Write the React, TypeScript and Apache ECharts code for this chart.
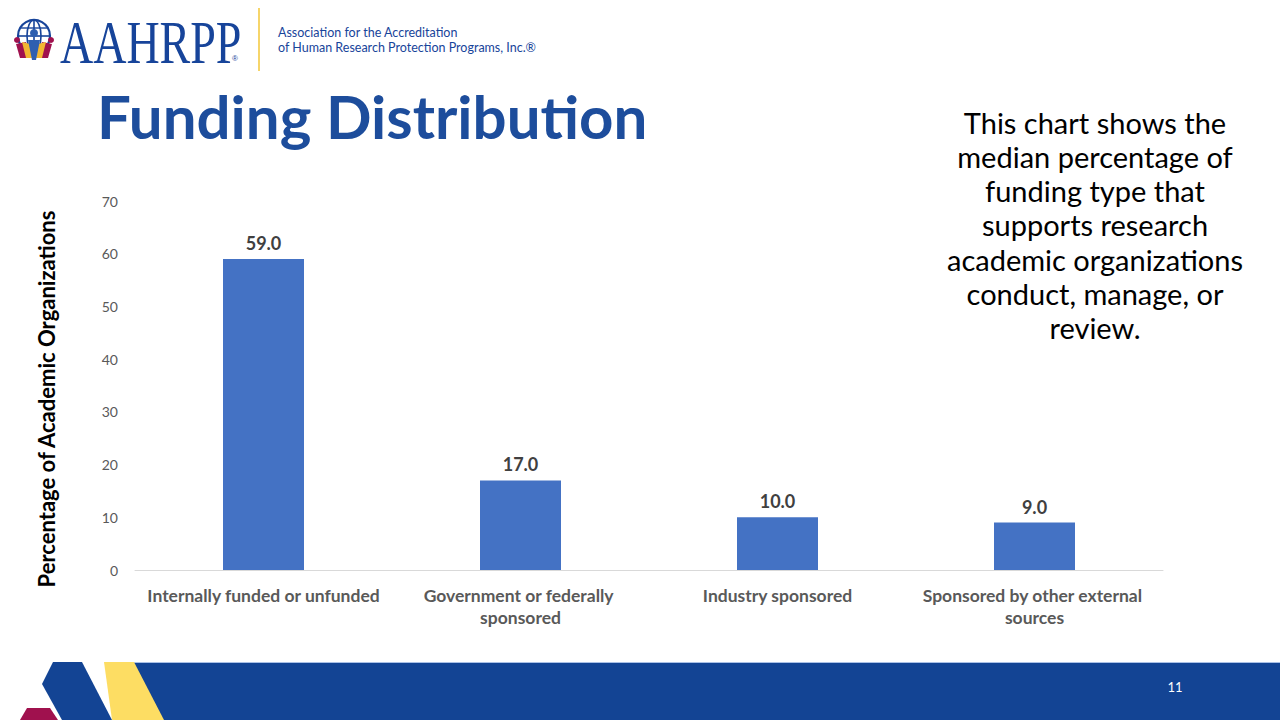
import React, { useEffect, useRef } from "react";
import * as echarts from "echarts";

const categories = [
  "Internally funded or unfunded",
  "Government or federally sponsored",
  "Industry sponsored",
  "Sponsored by other external sources",
];
const medianPercent = [59.0, 17.0, 10.0, 9.0];
const yTicks = { min: 0, max: 70, interval: 10 };
const titleText = "Funding Distribution";
const yAxisTitle = "Percentage of Academic Organizations";
const noteLines = [
  "This chart shows the",
  "median percentage of",
  "funding type that",
  "supports research",
  "academic organizations",
  "conduct, manage, or",
  "review.",
];
const orgLines = [
  "Association for the Accreditation",
  "of Human Research Protection Programs, Inc.®",
];
const pageNumber = "11";

const FONT = "Lato, 'Open Sans', sans-serif";

export default function App() {
  const ref = useRef<HTMLDivElement>(null);
  useEffect(() => {
    document.body.style.margin = "0";
    const chart = echarts.init(ref.current!, null, { renderer: "svg" });
    const navy = "#17449A";
    const graphics: any[] = [
      // logo globe
      { type: "circle", shape: { cx: 34, cy: 36, r: 16 }, style: { fill: "none", stroke: navy, lineWidth: 2.2 } },
      { type: "ellipse", shape: { cx: 34, cy: 36, rx: 7, ry: 16 }, style: { fill: "none", stroke: navy, lineWidth: 1.6 } },
      { type: "line", shape: { x1: 34, y1: 20, x2: 34, y2: 52 }, style: { stroke: navy, lineWidth: 1.6 } },
      { type: "line", shape: { x1: 18, y1: 36, x2: 50, y2: 36 }, style: { stroke: navy, lineWidth: 1.6 } },
      { type: "line", shape: { x1: 21, y1: 28, x2: 47, y2: 28 }, style: { stroke: navy, lineWidth: 1.4 } },
      // people figures
      { type: "polygon", shape: { points: [[16, 44], [26, 42], [30, 58], [20, 58]] }, style: { fill: "#A0114E" } },
      { type: "circle", shape: { cx: 17, cy: 40, r: 3 }, style: { fill: "#A0114E" } },
      { type: "polygon", shape: { points: [[52, 44], [42, 42], [38, 58], [48, 58]] }, style: { fill: "#A0114E" } },
      { type: "circle", shape: { cx: 51, cy: 40, r: 3 }, style: { fill: "#A0114E" } },
      { type: "polygon", shape: { points: [[22, 42], [30, 44], [32, 58], [26, 58]] }, style: { fill: "#F2B632" } },
      { type: "polygon", shape: { points: [[46, 42], [38, 44], [36, 58], [42, 58]] }, style: { fill: "#F2B632" } },
      { type: "polygon", shape: { points: [[28, 40], [40, 40], [36, 60], [32, 60]] }, style: { fill: "#2E5FB0" } },
      { type: "circle", shape: { cx: 34, cy: 33, r: 4 }, style: { fill: "#2E5FB0" } },
      {
        type: "text", x: 60, y: 42, scaleY: 1.35,
        style: { text: "AAHRPP", fill: navy, font: "46px 'Liberation Serif', 'DejaVu Serif', serif", align: "left", verticalAlign: "middle" },
      },
      { type: "text", x: 232, y: 54, style: { text: "®", fill: navy, font: "8px sans-serif" } },
      { type: "line", shape: { x1: 259, y1: 8, x2: 259, y2: 71 }, style: { stroke: "#F6D56A", lineWidth: 2 } },
      { type: "text", x: 278, y: 26, style: { text: orgLines[0], fill: navy, font: `12.5px ${FONT}` } },
      { type: "text", x: 278, y: 41, style: { text: orgLines[1], fill: navy, font: `12.5px ${FONT}` } },
      // title
      {
        type: "text", x: 97, y: 116,
        style: { text: titleText, fill: "#1D4D9C", font: `bold 60px ${FONT}`, align: "left", verticalAlign: "middle" },
      },
      // y-axis title
      {
        type: "text", x: 46, y: 399, rotation: Math.PI / 2,
        style: { text: yAxisTitle, fill: "#000", font: `bold 22px ${FONT}`, align: "center", verticalAlign: "middle" },
      },
      // note text
      ...noteLines.map((t, i) => ({
        type: "text", x: 1095, y: 122 + i * 34.3,
        style: { text: t, fill: "#000", font: `29px ${FONT}`, align: "center", verticalAlign: "middle" },
      })),
      // footer
      { type: "polygon", shape: { points: [[133, 662], [1280, 662], [1280, 720], [163, 720]] }, style: { fill: "#134494" } },
      { type: "line", shape: { x1: 133, y1: 662.5, x2: 1280, y2: 662.5 }, style: { stroke: "#A9C0E6", lineWidth: 1 } },
      { type: "polygon", shape: { points: [[104, 662], [134, 662], [164, 720], [112, 720]] }, style: { fill: "#FDDD63" } },
      { type: "polygon", shape: { points: [[42, 684], [53, 662], [82, 662], [112, 720], [62, 720]] }, style: { fill: "#134494" } },
      { type: "polygon", shape: { points: [[27, 708], [50, 708], [58, 720], [20, 720]] }, style: { fill: "#A0114E" } },
      {
        type: "text", x: 1175, y: 687,
        style: { text: pageNumber, fill: "#fff", font: `13px ${FONT}`, align: "center", verticalAlign: "middle" },
      },
    ];

    chart.setOption({
      animation: false,
      backgroundColor: "#fff",
      grid: { left: 135, right: 117, top: 201, bottom: 150 },
      xAxis: {
        type: "category",
        data: categories,
        axisLine: { lineStyle: { color: "#D9D9D9", width: 1 } },
        axisTick: { show: false },
        axisLabel: {
          color: "#595959",
          fontFamily: FONT,
          fontWeight: "bold",
          fontSize: 17.5,
          lineHeight: 22,
          margin: 14,
          width: 250,
          overflow: "break",
          interval: 0,
        },
      },
      yAxis: {
        type: "value",
        min: yTicks.min,
        max: yTicks.max,
        interval: yTicks.interval,
        splitLine: { show: false },
        axisLine: { show: false },
        axisTick: { show: false },
        axisLabel: { color: "#595959", fontFamily: FONT, fontSize: 14, margin: 17 },
      },
      series: [
        {
          type: "bar",
          data: medianPercent,
          barWidth: 81,
          itemStyle: { color: "#4472C4" },
          label: {
            show: true,
            position: "top",
            distance: 7,
            color: "#404040",
            fontFamily: FONT,
            fontWeight: "bold",
            fontSize: 18,
            formatter: (p: any) => Number(p.value).toFixed(1),
          },
        },
      ],
      graphic: graphics,
    });
    return () => chart.dispose();
  }, []);
  return <div ref={ref} style={{ position: "fixed", left: 0, top: 0, width: 1280, height: 720 }} />;
}
